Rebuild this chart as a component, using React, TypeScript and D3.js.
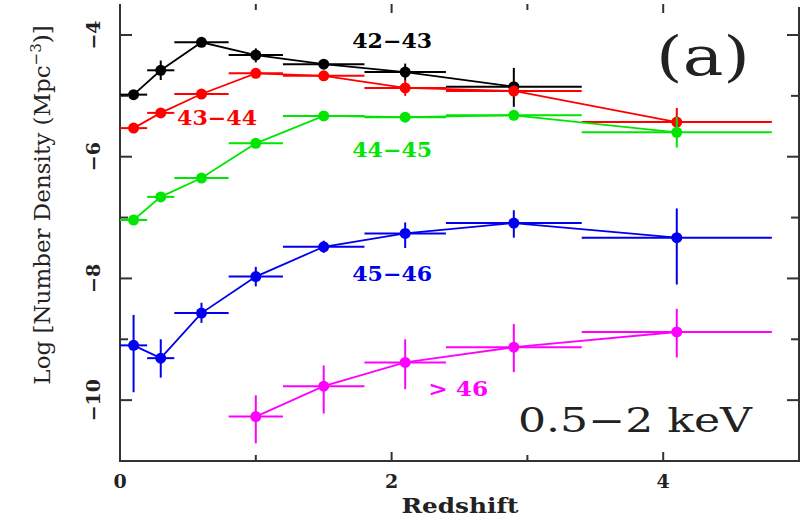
import React from "react";
import * as d3 from "d3";

// redshift bins (centres and edges)
const zMid = [0.1, 0.3, 0.6, 1.0, 1.5, 2.1, 2.9, 4.1];
const zLo = [0, 0.2, 0.4, 0.8, 1.2, 1.8, 2.4, 3.4];
const zHi = [0.2, 0.4, 0.8, 1.2, 1.8, 2.4, 3.4, 4.8];

// log number density per luminosity class (null = no point)
const lum4243 = [-4.98, -4.58, -4.12, -4.33, -4.48, -4.61, -4.85, null];
const lum4243Up = [-4.94, -4.42, -4.08, -4.22, -4.4, -4.47, -4.54, null];
const lum4243Dn = [-5.02, -4.74, -4.16, -4.45, -4.56, -4.75, -5.18, null];

const lum4344 = [-5.53, -5.28, -4.97, -4.63, -4.67, -4.87, -4.92, -5.43];
const lum4344Up = [-5.49, -5.24, -4.93, -4.59, -4.6, -4.74, -4.83, -5.2];
const lum4344Dn = [-5.57, -5.32, -5.01, -4.67, -4.74, -5.0, -5.01, -5.6];

const lum4445 = [-7.04, -6.66, -6.35, -5.78, -5.33, -5.35, -5.32, -5.6];
const lum4445Up = [-7.0, -6.62, -6.31, -5.74, -5.29, -5.31, -5.26, -5.35];
const lum4445Dn = [-7.08, -6.7, -6.39, -5.82, -5.37, -5.39, -5.38, -5.85];

const lum4546 = [-9.1, -9.31, -8.57, -7.97, -7.48, -7.26, -7.09, -7.33];
const lum4546Up = [-8.6, -9.0, -8.4, -7.81, -7.38, -7.08, -6.88, -6.85];
const lum4546Dn = [-9.87, -9.63, -8.73, -8.13, -7.58, -7.5, -7.33, -8.1];

const lum46 = [null, null, null, -10.27, -9.77, -9.38, -9.13, -8.88];
const lum46Up = [null, null, null, -9.92, -9.43, -9.0, -8.75, -8.5];
const lum46Dn = [null, null, null, -10.71, -10.22, -9.82, -9.54, -9.3];

const seriesNames = ["42\u221243", "43\u221244", "44\u221245", "45\u221246", "> 46"];
const seriesColors = ["#000000", "#ff0000", "#00e600", "#0000ee", "#ff00ff"];

const W = 807;
const H = 519;
const left = 120;
const right = 799;
const bottom = 461;

export default function App() {
  const x = d3.scaleLinear().domain([0, 5]).range([left, right]);
  const y = d3.scaleLinear().domain([-11, -4]).range([bottom, 35]);

  const series = [
    { v: lum4243, up: lum4243Up, dn: lum4243Dn },
    { v: lum4344, up: lum4344Up, dn: lum4344Dn },
    { v: lum4445, up: lum4445Up, dn: lum4445Dn },
    { v: lum4546, up: lum4546Up, dn: lum4546Dn },
    { v: lum46, up: lum46Up, dn: lum46Dn },
  ];

  const xTicks = d3.range(0, 5);
  const yTicks = d3.range(-11, -3);

  // label anchors (data coords, left edge of text)
  const labelPos = [
    [1.71, -4.22],
    [0.42, -5.48],
    [1.71, -6.0],
    [1.71, -8.05],
    [2.27, -9.93],
  ];

  const serif = "'DejaVu Serif', serif";

  return (
    <svg
      width={W}
      height={H}
      style={{ position: "absolute", left: 0, top: 0, background: "#fff" }}
    >
      {/* frame */}
      <g stroke="#333" strokeWidth={2} fill="none">
        <line x1={left} y1={7} x2={left} y2={bottom} />
        <line x1={right} y1={7} x2={right} y2={bottom} />
        <line x1={left - 1} y1={bottom} x2={right + 1} y2={bottom} />
      </g>
      {/* ticks */}
      <g stroke="#333" strokeWidth={2}>
        {xTicks.map((t) => {
          const len = t % 2 === 0 ? 9 : 6;
          return (
            <g key={"xt" + t}>
              <line x1={x(t)} x2={x(t)} y1={bottom} y2={bottom - len} />
              <line x1={x(t)} x2={x(t)} y1={4} y2={4 + len} />
            </g>
          );
        })}
        {yTicks.map((t) => {
          const len = t % 2 === 0 ? 12 : 8;
          return (
            <g key={"yt" + t}>
              <line x1={left} x2={left + len} y1={y(t)} y2={y(t)} />
              <line x1={right} x2={right - len} y1={y(t)} y2={y(t)} />
            </g>
          );
        })}
      </g>
      {/* tick labels */}
      <g fontFamily={serif} fontWeight="bold" fontSize={19} fill="#222" textAnchor="middle">
        {xTicks
          .filter((t) => t % 2 === 0)
          .map((t) => (
            <text key={"xl" + t} x={x(t)} y={488}>
              {t}
            </text>
          ))}
        {yTicks
          .filter((t) => t % 2 === 0)
          .map((t) => (
            <text key={"yl" + t} transform={`translate(100,${y(t)}) rotate(-90)`}>
              {"\u2212" + Math.abs(t)}
            </text>
          ))}
        <text
          x={(left + right) / 2 - 58}
          y={513}
          fontSize={20}
          textAnchor="start"
          textLength={117}
          lengthAdjust="spacingAndGlyphs"
        >
          Redshift
        </text>
      </g>
      <text
        transform={`translate(50,205) rotate(-90)`}
        fontFamily={serif}
        fontSize={23}
        fill="#222"
        textAnchor="middle"
      >
        Log [Number Density (Mpc
        <tspan dy={-9} fontSize={15}>
          {"\u22123"}
        </tspan>
        <tspan dy={9}>)]</tspan>
      </text>

      {/* series */}
      {series.map((s, si) => {
        const color = seriesColors[si];
        const idx = zMid.map((_, i) => i).filter((i) => s.v[i] != null);
        const path = d3
          .line<number>()
          .x((i) => x(zMid[i]))
          .y((i) => y(s.v[i] as number))(idx);
        return (
          <g key={"s" + si} stroke={color} fill={color}>
            <path d={path || ""} fill="none" strokeWidth={1.8} />
            {idx.map((i) => (
              <g key={"p" + i}>
                <line
                  x1={x(zLo[i])}
                  x2={x(zHi[i])}
                  y1={y(s.v[i] as number)}
                  y2={y(s.v[i] as number)}
                  strokeWidth={2}
                />
                <line
                  x1={x(zMid[i])}
                  x2={x(zMid[i])}
                  y1={y(s.up[i] as number)}
                  y2={y(s.dn[i] as number)}
                  strokeWidth={2}
                />
                <circle cx={x(zMid[i])} cy={y(s.v[i] as number)} r={5.5} stroke="none" />
              </g>
            ))}
          </g>
        );
      })}

      {/* series labels */}
      <g fontFamily={serif} fontWeight="bold" fontSize={20}>
        {seriesNames.map((n, si) => (
          <text
            key={"n" + si}
            x={x(labelPos[si][0])}
            y={y(labelPos[si][1])}
            fill={seriesColors[si]}
            textLength={n.length === 5 ? 80 : 60}
            lengthAdjust="spacingAndGlyphs"
          >
            {n}
          </text>
        ))}
      </g>
      <text
        x={656}
        y={75}
        fontFamily={serif}
        fontSize={54}
        fill="#222"
        textLength={94}
        lengthAdjust="spacingAndGlyphs"
      >
        (a)
      </text>
      <text
        x={518}
        y={432}
        fontFamily={serif}
        fontSize={33}
        fill="#222"
        textLength={234}
        lengthAdjust="spacingAndGlyphs"
      >
        0.5{"\u2212"}2 keV
      </text>
    </svg>
  );
}
